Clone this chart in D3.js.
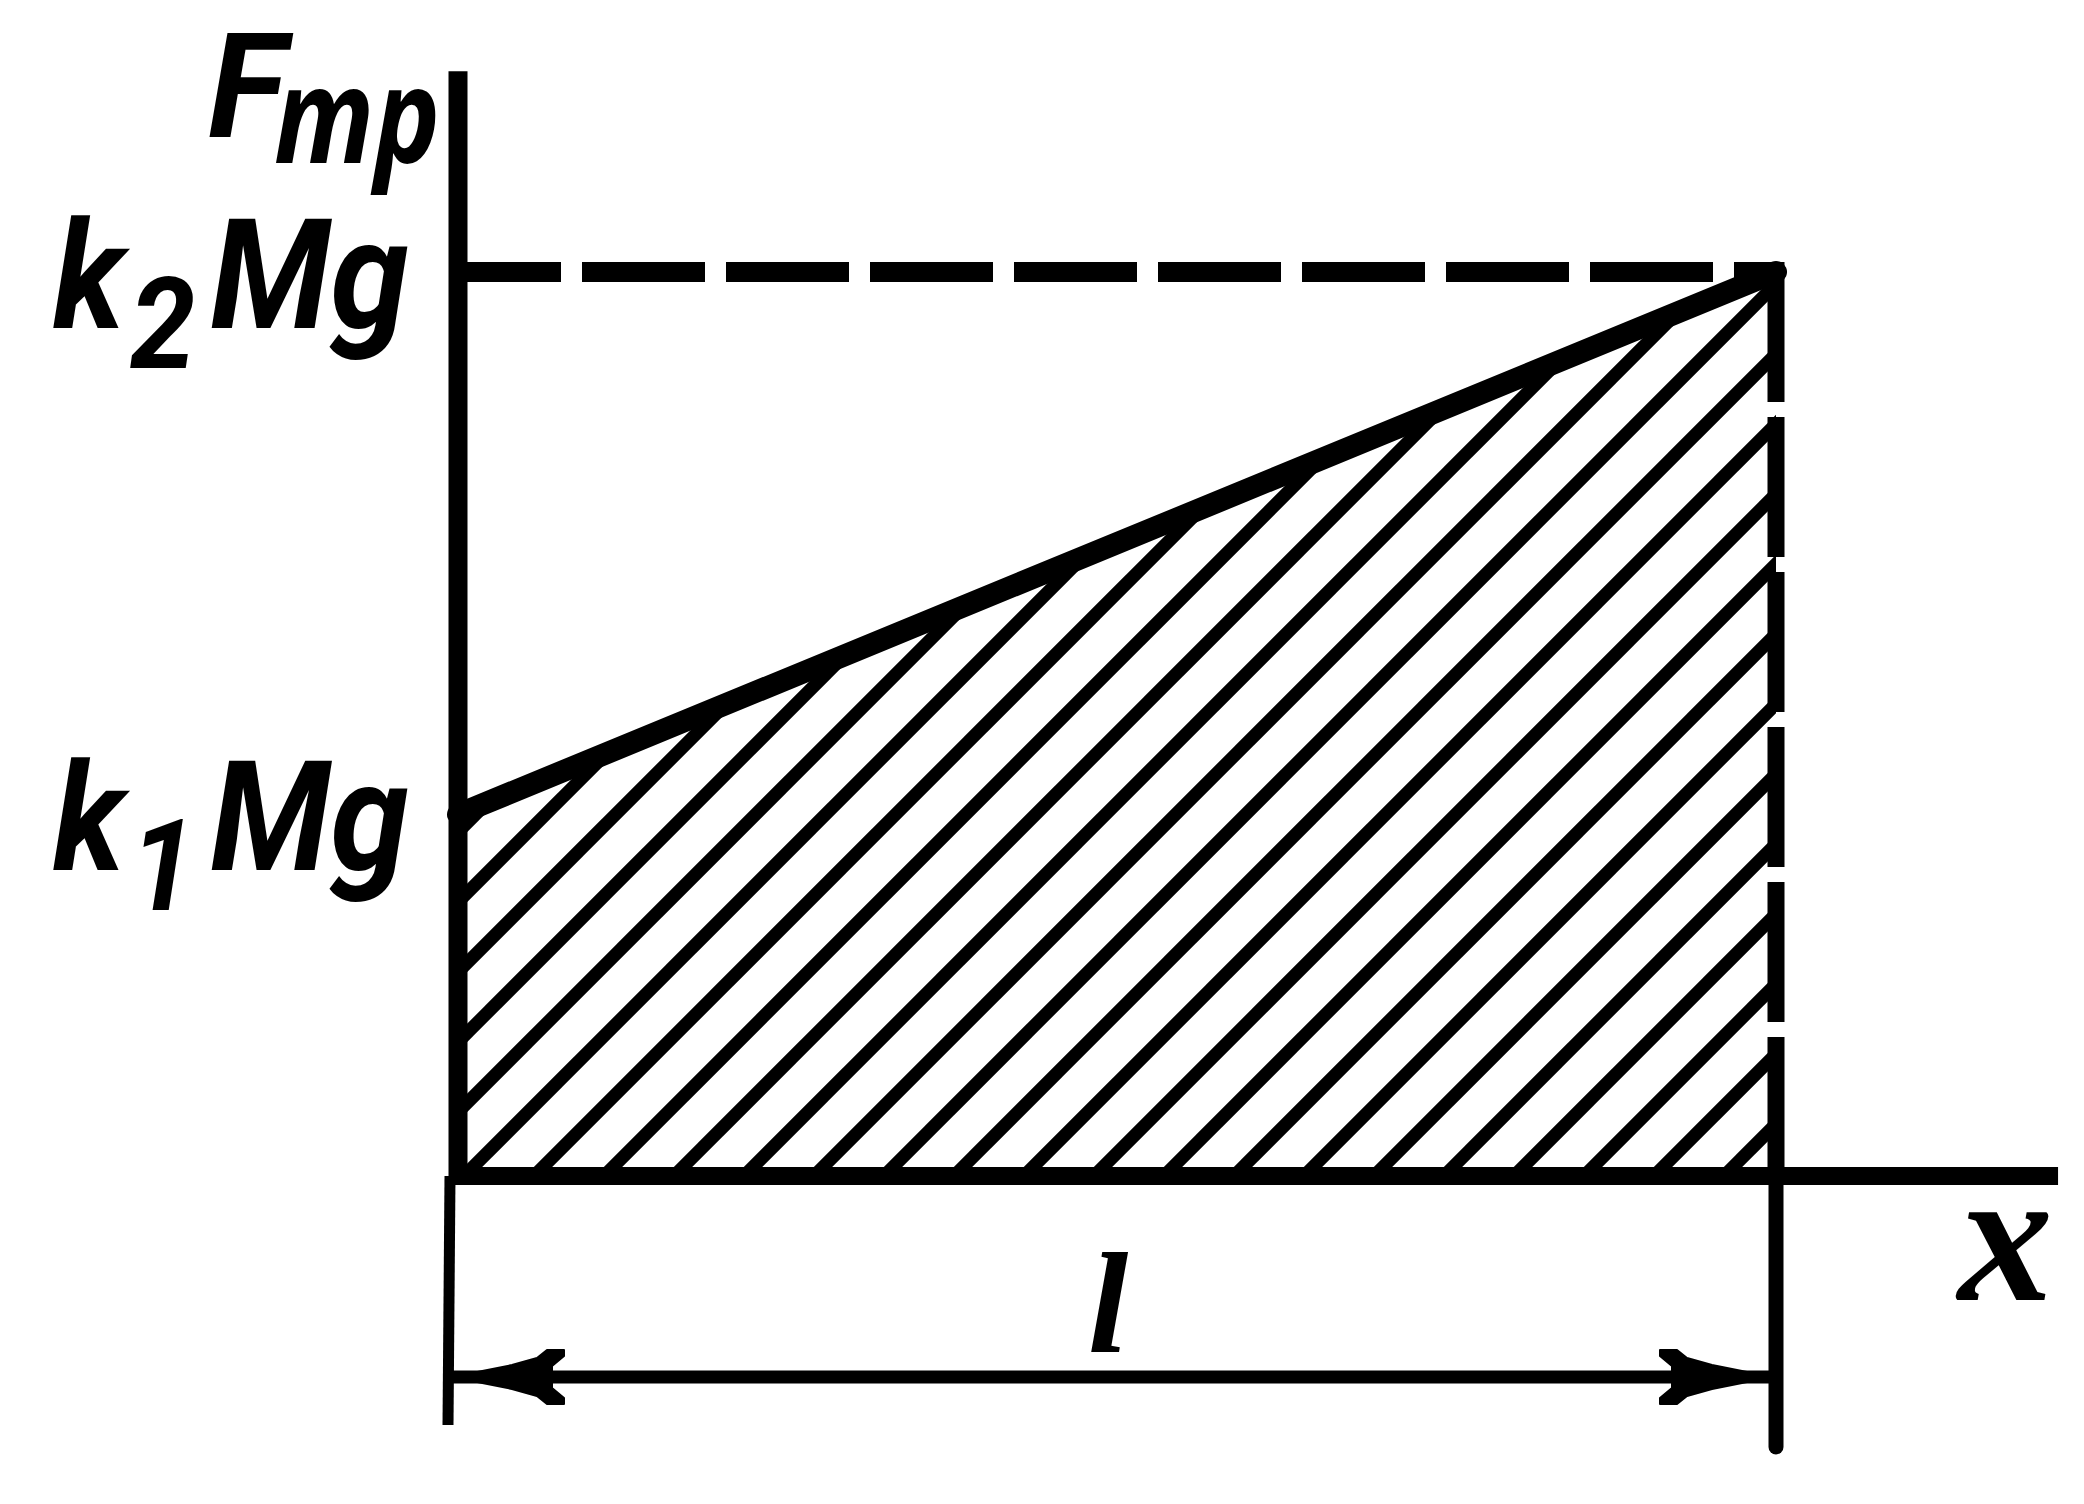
<!DOCTYPE html>
<html><head><meta charset="utf-8">
<script src="https://cdn.jsdelivr.net/npm/d3@7"></script>
<style>
html,body{margin:0;padding:0;background:#fff;}
svg{display:block;}
.lbl{font-family:Roboto,"Noto Sans",sans-serif;font-style:italic;font-weight:700;fill:#000;}
.cyr{font-family:"Open Sans","Noto Sans",sans-serif;font-style:italic;font-weight:700;fill:#000;}
.ser{font-family:"Liberation Serif","DejaVu Serif",serif;font-style:italic;font-weight:700;fill:#000;}
</style></head><body>
<svg id="chart" width="2084" height="1504"></svg>
<script>
// ---- data ----
const distance = [0, 1];                 // x from 0 to l
const friction = [0.2, 0.5];             // F_тр from k1Mg to k2Mg
const yTickValues = [0.2, 0.5];
const yTickMain = ["k", "k"];
const yTickSub = ["1", "2"];
const yTickTail = ["Mg", "Mg"];
const xAxisMax = 1.214;
const yAxisMax = 0.611;
const yTitleMain = "F";
const yTitleSub = "тр";
const xTitle = "x";
const lengthLabel = "l";

const pts = distance.map((d, i) => ({x: d, f: friction[i]}));

const svg = d3.select("#chart");
const x = d3.scaleLinear().domain([0, 1]).range([458, 1776]);
const y = d3.scaleLinear().domain([0, 0.5]).range([1176, 272]);

// hatched area
const area = d3.area().x(d => x(d.x)).y0(y(0)).y1(d => y(d.f));
svg.append("clipPath").attr("id", "clip").append("path").attr("d", area(pts));
const hatch = svg.append("g").attr("clip-path", "url(#clip)");
const step = 70, c0 = 1640;
const cs = d3.range(-8, 22).map(k => c0 + k * step);
hatch.selectAll("line").data(cs).join("line")
  .attr("x1", 300).attr("y1", c => c - 300)
  .attr("x2", 1900).attr("y2", c => c - 1900)
  .attr("stroke", "#000").attr("stroke-width", 13);

// friction line
svg.append("path").datum(pts)
  .attr("d", d3.line().x(d => x(d.x)).y(d => y(d.f)))
  .attr("fill", "none").attr("stroke", "#000").attr("stroke-width", 22).attr("stroke-linecap", "round");

// dashed level k2Mg
svg.append("line")
  .attr("x1", x(0)).attr("x2", x(1)).attr("y1", y(friction[1])).attr("y2", y(friction[1]))
  .attr("stroke", "#000").attr("stroke-width", 20)
  .attr("stroke-dasharray", "123,21").attr("stroke-dashoffset", 20);

// dashed vertical at x = l
svg.append("line")
  .attr("x1", x(1)).attr("x2", x(1)).attr("y1", y(friction[1]) - 10).attr("y2", y(0))
  .attr("stroke", "#000").attr("stroke-width", 17)
  .attr("stroke-dasharray", "140,15");
// extension lines below axis
svg.append("line")
  .attr("x1", x(1)).attr("x2", x(1)).attr("y1", y(0)).attr("y2", 1447)
  .attr("stroke", "#000").attr("stroke-width", 15).attr("stroke-linecap", "round");
svg.append("line")
  .attr("x1", x(0) - 8).attr("x2", x(0) - 10).attr("y1", y(0)).attr("y2", 1425)
  .attr("stroke", "#000").attr("stroke-width", 11);

// axes
svg.append("line")
  .attr("x1", x(0)).attr("x2", x(0)).attr("y1", y(0) + 8).attr("y2", y(yAxisMax))
  .attr("stroke", "#000").attr("stroke-width", 19);
svg.append("line")
  .attr("x1", x(0) - 8).attr("x2", x(xAxisMax)).attr("y1", y(0)).attr("y2", y(0))
  .attr("stroke", "#000").attr("stroke-width", 18);

// dimension line
const dimY = 1377;
svg.append("line")
  .attr("x1", x(0) - 8).attr("x2", x(1)).attr("y1", dimY).attr("y2", dimY)
  .attr("stroke", "#000").attr("stroke-width", 13);
function arrow(tip, dir) {
  const shape = [[0,0],[60,-12],[85,-19],[95,-27],[112,-27],[112,-21],[100,-11],[100,11],[112,21],[112,27],[95,27],[85,19],[60,12]];
  svg.append("path")
    .attr("d", "M" + shape.map(p => `${tip + dir * p[0]},${dimY + p[1]}`).join("L") + "Z")
    .attr("fill", "#000").attr("stroke", "#000").attr("stroke-width", 2).attr("stroke-linejoin", "round");
}
arrow(x(0) - 6, 1);
arrow(x(1) - 4, -1);

// y tick labels
yTickValues.forEach((v, i) => {
  const t = svg.append("text").attr("class", "lbl")
    .attr("transform", `translate(409,${y(v) + 56}) scale(0.92,1)`).attr("text-anchor", "end");
  t.append("tspan").attr("font-size", 150).text(yTickMain[i]);
  t.append("tspan").attr("font-size", 128).attr("dy", 40).attr("dx", 6).text(yTickSub[i]);
  t.append("tspan").attr("font-size", 154).attr("dy", -40).attr("dx", 16).text(yTickTail[i]);
});

// y title
svg.append("text").attr("class", "lbl").attr("x", 208).attr("y", 137).attr("font-size", 146).text(yTitleMain);
svg.append("text").attr("class", "cyr").attr("lang", "ru")
  .attr("transform", "translate(274,163) scale(0.84,1)").attr("font-size", 132).text(yTitleSub);

// x title
svg.append("text").attr("class", "ser").attr("x", 1958).attr("y", 1300).attr("font-size", 190).text(xTitle);
// length label
svg.append("text").attr("class", "ser").attr("x", 1088).attr("y", 1352).attr("font-size", 145).text(lengthLabel);
</script>
</body></html>
